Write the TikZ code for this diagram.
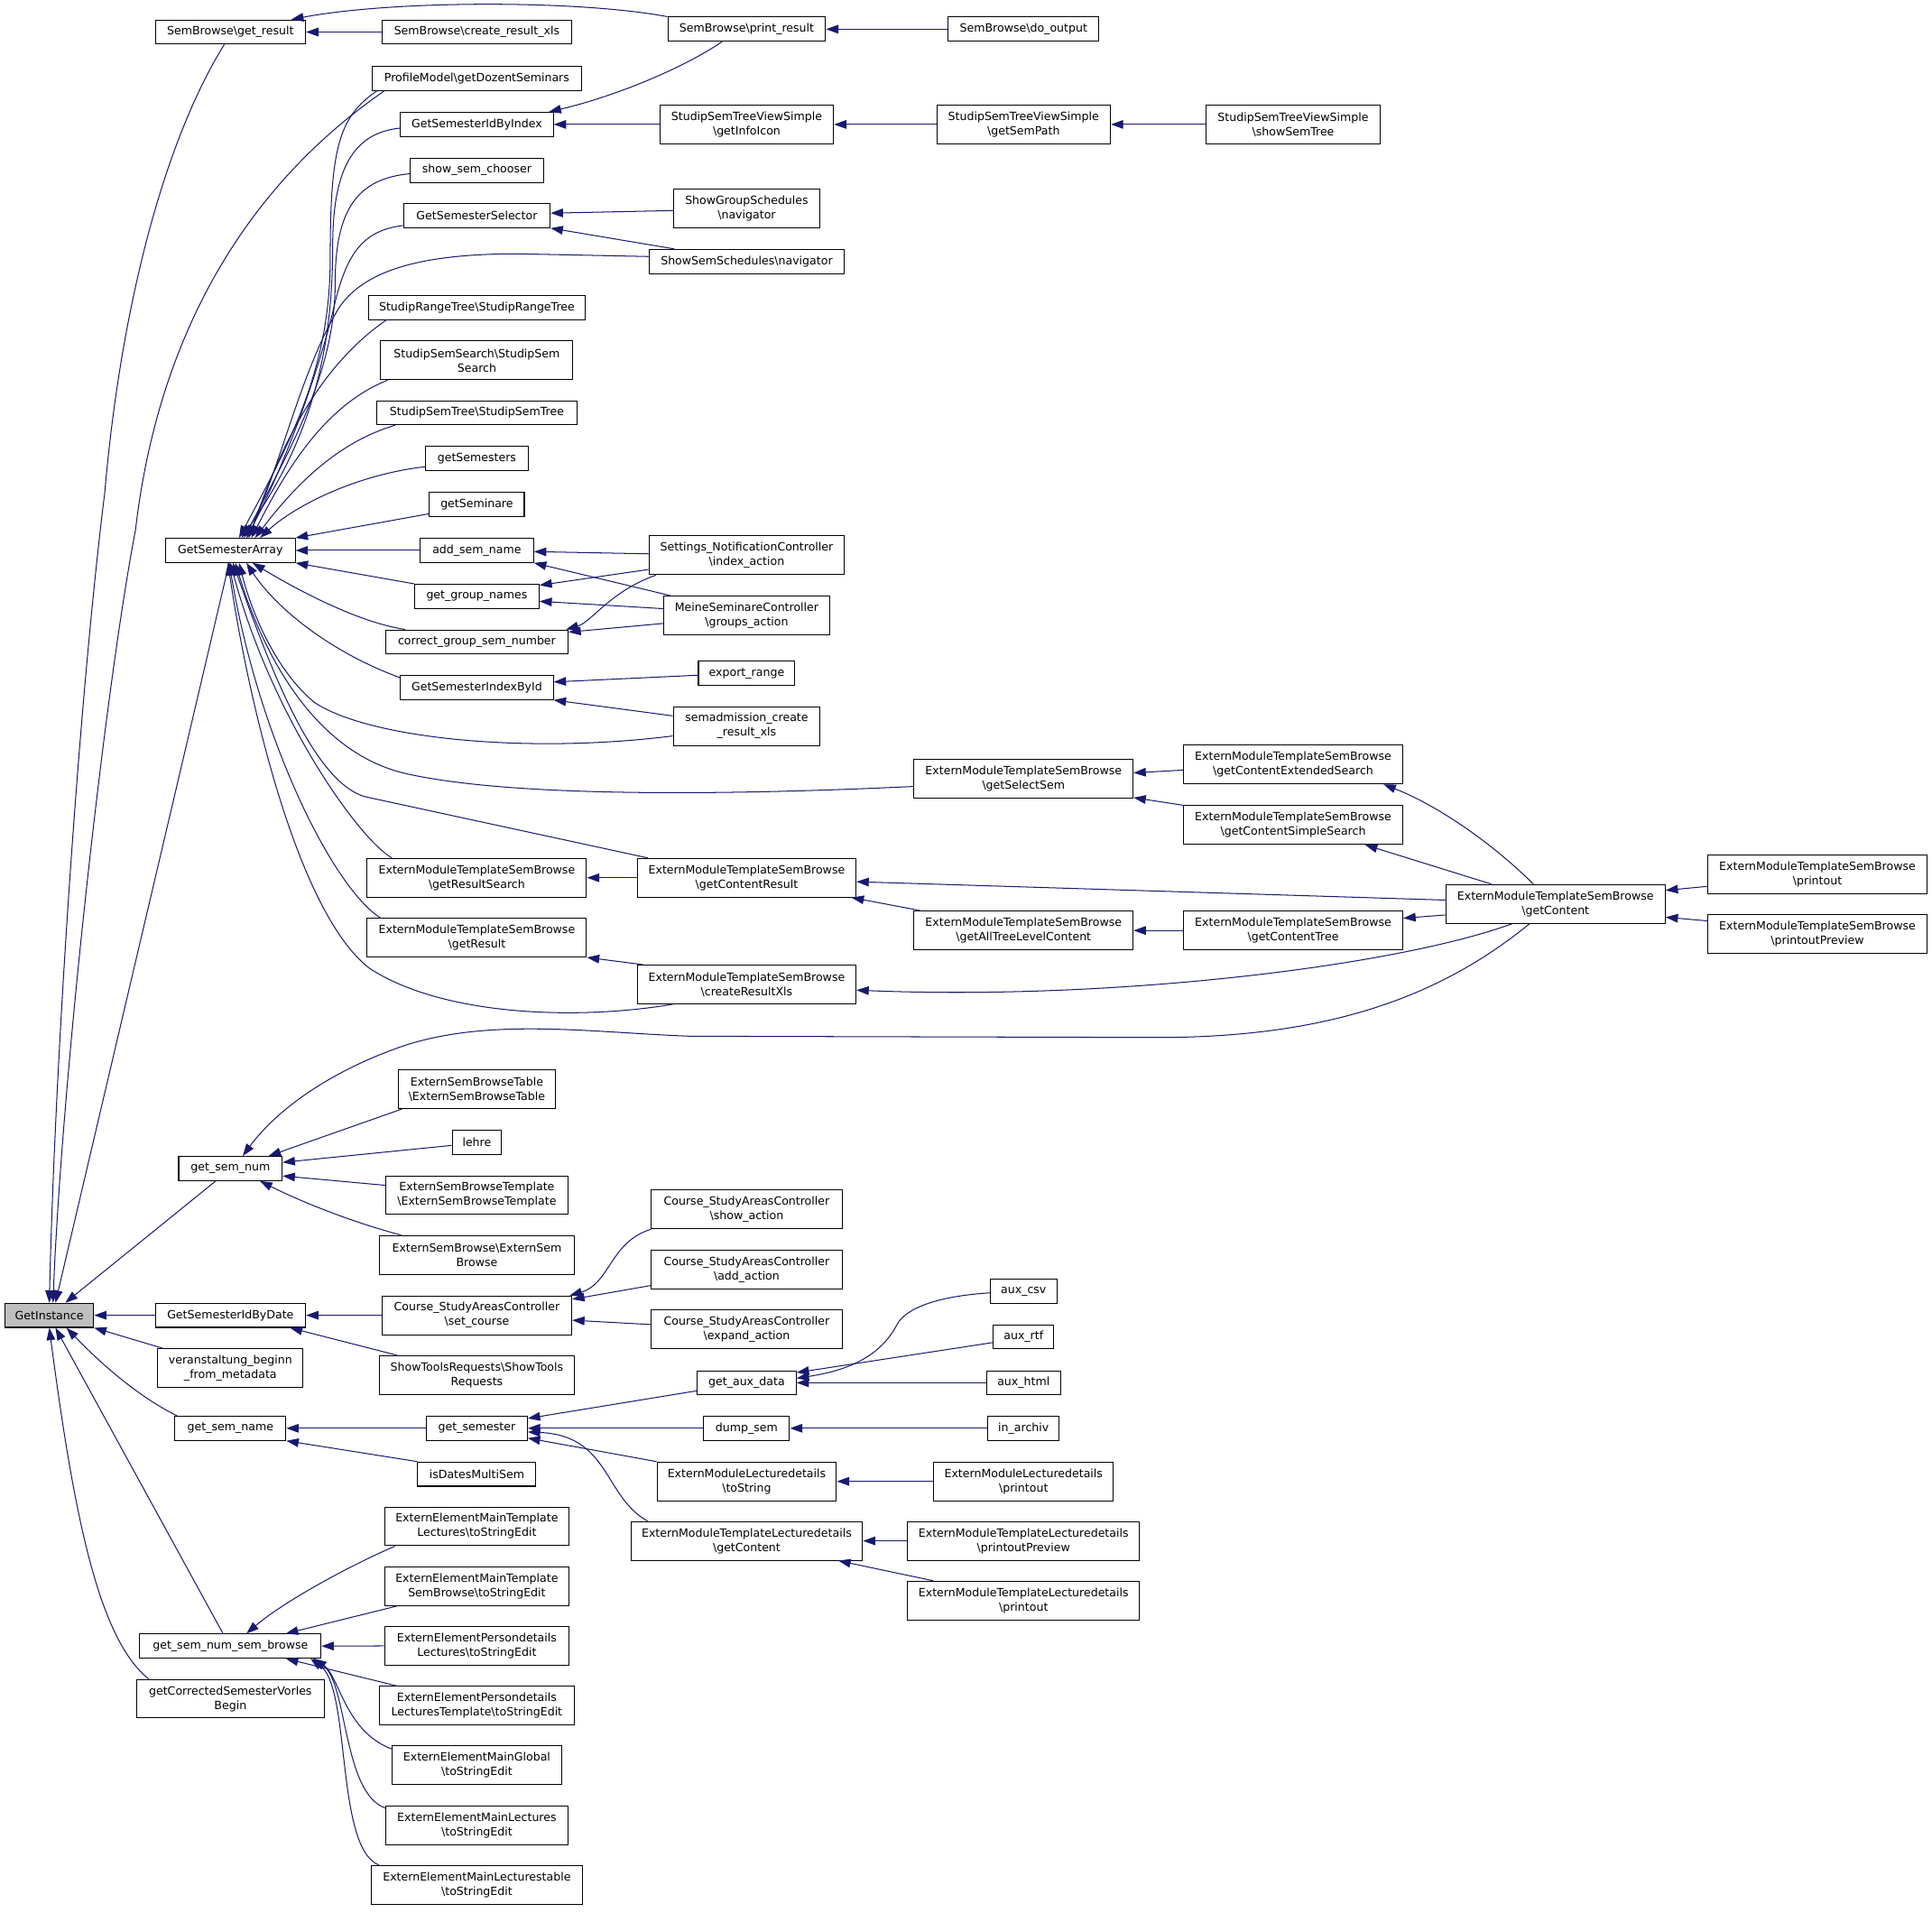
\documentclass[tikz,border=0pt]{standalone}
\usepackage{fontspec}
\setmainfont{DejaVu Sans}
\usetikzlibrary{arrows.meta}
\definecolor{edgeblue}{HTML}{191970}
\definecolor{boxgray}{HTML}{BFBFBF}
\newcommand\bsl{\textbackslash}
\newcommand\onebox[5]{\node[box, minimum width=#4pt, minimum height=19.6pt] (#1) at (#2,#3) {#5};}
\newcommand\twobox[5]{\node[box, minimum width=#4pt, minimum height=31.4pt] (#1) at (#2,#3) {#5};}
\begin{document}
\begin{tikzpicture}[x=1pt, y=-1pt,
  box/.style={draw=black, line width=0.75pt, inner sep=0pt, align=center, fill=white, font=\fontsize{9.2}{11.7}\selectfont},
  link/.style={draw=edgeblue, line width=0.75pt, {Triangle[length=10pt,width=7pt]}-}]
\useasboundingbox (0,0) rectangle (1568,1551.9);
% ---------- column 0 ----------
\node[box, fill=boxgray, minimum width=72pt, minimum height=19.6pt] (gi) at (40,1067.5) {GetInstance};
% ---------- column 1 ----------
\onebox{sgr}{187}{26}{122}{SemBrowse\bsl get\_result}
\onebox{gsa}{187}{446.7}{105}{GetSemesterArray}
\onebox{gsn}{187}{948.4}{84}{get\_sem\_num}
\onebox{gsibd}{187}{1067.5}{122}{GetSemesterIdByDate}
\twobox{vbfm}{187}{1110.5}{118}{veranstaltung\_beginn\\\_from\_metadata}
\onebox{gsname}{187}{1159.2}{90}{get\_sem\_name}
\onebox{gsnsb}{187}{1336}{147}{get\_sem\_num\_sem\_browse}
\twobox{gcsvb}{187}{1378.7}{152}{getCorrectedSemesterVorles\\Begin}
% ---------- column 2 ----------
\onebox{crx}{387}{26}{154}{SemBrowse\bsl create\_result\_xls}
\onebox{pm}{387}{63.8}{170}{ProfileModel\bsl getDozentSeminars}
\onebox{gsibi}{387}{101}{124}{GetSemesterIdByIndex}
\onebox{ssc}{387}{138.2}{108}{show\_sem\_chooser}
\onebox{gss}{387}{175}{119}{GetSemesterSelector}
\onebox{srt}{387}{249.5}{176}{StudipRangeTree\bsl StudipRangeTree}
\twobox{sss}{387}{292.5}{156}{StudipSemSearch\bsl StudipSem\\Search}
\onebox{sst}{387}{335}{162}{StudipSemTree\bsl StudipSemTree}
\onebox{gsem}{387}{371.8}{83}{getSemesters}
\onebox{gsmn}{387}{409.5}{77}{getSeminare}
\onebox{asn}{387}{446.7}{92}{add\_sem\_name}
\onebox{ggn}{387}{484}{101}{get\_group\_names}
\onebox{cgsn}{387}{521}{148}{correct\_group\_sem\_number}
\onebox{gsiid}{387}{558}{124}{GetSemesterIndexById}
\twobox{grs}{387}{712.4}{178}{ExternModuleTemplateSemBrowse\\\bsl getResultSearch}
\twobox{gr}{387}{761}{178}{ExternModuleTemplateSemBrowse\\\bsl getResult}
\twobox{esbt}{387}{884}{128}{ExternSemBrowseTable\\\bsl ExternSemBrowseTable}
\onebox{lehre}{387}{927.2}{40}{lehre}
\twobox{esbtp}{387}{970}{148}{ExternSemBrowseTemplate\\\bsl ExternSemBrowseTemplate}
\twobox{esb}{387}{1018.5}{158}{ExternSemBrowse\bsl ExternSem\\Browse}
\twobox{setc}{387}{1067.5}{154}{Course\_StudyAreasController\\\bsl set\_course}
\twobox{str}{387}{1116}{158}{ShowToolsRequests\bsl ShowTools\\Requests}
\onebox{gsem2}{387}{1159.2}{82}{get\_semester}
\onebox{idms}{387}{1196.4}{96}{isDatesMultiSem}
\twobox{e1}{387}{1238.8}{150}{ExternElementMainTemplate\\Lectures\bsl toStringEdit}
\twobox{e2}{387}{1287.4}{150}{ExternElementMainTemplate\\SemBrowse\bsl toStringEdit}
\twobox{e3}{387}{1335.8}{150}{ExternElementPersondetails\\Lectures\bsl toStringEdit}
\twobox{e4}{387}{1384.4}{158}{ExternElementPersondetails\\LecturesTemplate\bsl toStringEdit}
\twobox{e5}{387}{1432.8}{138}{ExternElementMainGlobal\\\bsl toStringEdit}
\twobox{e6}{387}{1481.4}{148}{ExternElementMainLectures\\\bsl toStringEdit}
\twobox{e7}{387}{1529.8}{171}{ExternElementMainLecturestable\\\bsl toStringEdit}
% ---------- column 3 ----------
\onebox{pr}{606}{23.7}{128}{SemBrowse\bsl print\_result}
\twobox{gii}{606}{101}{141}{StudipSemTreeViewSimple\\\bsl getInfoIcon}
\twobox{sgs}{606}{169.3}{118.5}{ShowGroupSchedules\\\bsl navigator}
\onebox{sssn}{606}{212.2}{158.6}{ShowSemSchedules\bsl navigator}
\twobox{snc}{606}{450.7}{158.6}{Settings\_NotificationController\\\bsl index\_action}
\twobox{msc}{606}{499.5}{134.7}{MeineSeminareController\\\bsl groups\_action}
\onebox{er}{606}{546.4}{78.3}{export\_range}
\twobox{scr}{606}{589.3}{119.3}{semadmission\_create\\\_result\_xls}
\twobox{gcr}{606}{712.4}{177.4}{ExternModuleTemplateSemBrowse\\\bsl getContentResult}
\twobox{crxl}{606}{799}{177.4}{ExternModuleTemplateSemBrowse\\\bsl createResultXls}
\twobox{sa}{606}{981.6}{154.6}{Course\_StudyAreasController\\\bsl show\_action}
\twobox{aa}{606}{1030.3}{154.6}{Course\_StudyAreasController\\\bsl add\_action}
\twobox{ea}{606}{1079}{154.6}{Course\_StudyAreasController\\\bsl expand\_action}
\onebox{gad}{606}{1122.3}{80.3}{get\_aux\_data}
\onebox{ds}{606}{1159.2}{69.6}{dump\_sem}
\twobox{tos}{606}{1202.3}{145.6}{ExternModuleLecturedetails\\\bsl toString}
\twobox{tlgc}{606}{1250.6}{188}{ExternModuleTemplateLecturedetails\\\bsl getContent}
% ---------- column 4 ----------
\onebox{dout}{830.7}{23.7}{122.6}{SemBrowse\bsl do\_output}
\twobox{gsp}{830.7}{101}{141}{StudipSemTreeViewSimple\\\bsl getSemPath}
\twobox{gssel}{830.7}{632.3}{177.7}{ExternModuleTemplateSemBrowse\\\bsl getSelectSem}
\twobox{gatl}{830.7}{755.2}{177.7}{ExternModuleTemplateSemBrowse\\\bsl getAllTreeLevelContent}
\onebox{acsv}{830.7}{1048}{54}{aux\_csv}
\onebox{artf}{830.7}{1085}{49}{aux\_rtf}
\onebox{ahtml}{830.7}{1122.3}{60}{aux\_html}
\onebox{iarch}{830.7}{1159.2}{58}{in\_archiv}
\twobox{elp}{830.7}{1202.3}{145.5}{ExternModuleLecturedetails\\\bsl printout}
\twobox{tlpp}{830.7}{1250.6}{188}{ExternModuleTemplateLecturedetails\\\bsl printoutPreview}
\twobox{tlp}{830.7}{1299}{188}{ExternModuleTemplateLecturedetails\\\bsl printout}
% ---------- column 5 ----------
\twobox{sst2}{1049.5}{101}{141.4}{StudipSemTreeViewSimple\\\bsl showSemTree}
\twobox{gces}{1049.5}{620.5}{178}{ExternModuleTemplateSemBrowse\\\bsl getContentExtendedSearch}
\twobox{gcss}{1049.5}{669.6}{178}{ExternModuleTemplateSemBrowse\\\bsl getContentSimpleSearch}
\twobox{gct}{1049.5}{755.2}{178}{ExternModuleTemplateSemBrowse\\\bsl getContentTree}
% ---------- column 6/7 ----------
\twobox{gc}{1262.4}{733.6}{178}{ExternModuleTemplateSemBrowse\\\bsl getContent}
\twobox{po}{1475}{709.4}{178}{ExternModuleTemplateSemBrowse\\\bsl printout}
\twobox{ppv}{1475}{758.2}{178}{ExternModuleTemplateSemBrowse\\\bsl printoutPreview}

% ================= edges =================
% into GetInstance
\draw[link] (gi.north) .. controls (45,850) and (65,560) .. (85,400) .. controls (97,260) and (130,120) .. ([xshift=-5pt]sgr.south);
\draw[link] ([xshift=3pt]gi.north) .. controls (50,880) and (85,560) .. (110,430) .. controls (125,300) and (180,165) .. ([xshift=10pt]pm.south west);
\draw[link] ([xshift=5pt]gi.north) -- ([xshift=-1pt]gsa.south);
\draw[link] ([xshift=13pt]gi.north) -- ([xshift=-12pt]gsn.south);
\draw[link] (gi.east) -- (gsibd.west);
\draw[link] (gi.south east) -- ([xshift=5pt]vbfm.north west);
\draw[link] ([xshift=14pt]gi.south) .. controls (85,1110) and (115,1135) .. ([xshift=2pt]gsname.north west);
\draw[link] ([xshift=5pt]gi.south) -- ([xshift=-6pt]gsnsb.north);
\draw[link] (gi.south) .. controls (60,1230) and (80,1330) .. ([xshift=10pt]gcsvb.north west);
% SemBrowse
\draw[link] (sgr.east) -- (crx.west);
\draw[link] ([xshift=-12pt]sgr.north east) .. controls (320,0) and (470,0) .. (pr.north west);
\draw[link] (pr.east) -- (dout.west);
\draw[link] ([xshift=-4pt]gsibi.north east) .. controls (500,78) and (555,55) .. ([xshift=-20pt]pr.south);
% into GetSemesterArray (top)
\draw[link] ([xshift=7pt]gsa.north) .. controls (235,360) and (268,300) .. (268,210) .. controls (268,120) and (275,95) .. ([xshift=4pt]pm.south west);
\draw[link] ([xshift=9pt]gsa.north) .. controls (250,360) and (270,290) .. (270,200) .. controls (270,140) and (285,108) .. ([yshift=-3pt]gsibi.west);
\draw[link] ([xshift=11pt]gsa.north) .. controls (238,360) and (272,300) .. (272,230) .. controls (272,170) and (290,145) .. ([yshift=-2.8pt]ssc.west);
\draw[link] ([xshift=13pt]gsa.north) .. controls (235,370) and (262,290) .. (272,245) .. controls (282,205) and (295,187) .. ([yshift=-8pt]gss.west);
\draw[link] ([xshift=14pt]gsa.north) .. controls (230,370) and (245,300) .. (275,250) .. controls (295,220) and (340,206) .. (420,206) -- ([yshift=4pt]sssn.west);
\draw[link] ([xshift=15pt]gsa.north) .. controls (225,370) and (255,300) .. ([xshift=15pt]srt.south west);
\draw[link] ([xshift=17pt]gsa.north) .. controls (228,390) and (260,330) .. ([xshift=6pt]sss.south west);
\draw[link] ([xshift=20pt]gsa.north) .. controls (235,400) and (270,360) .. ([xshift=15pt]sst.south west);
\draw[link] ([xshift=24pt]gsa.north) .. controls (240,410) and (290,385) .. ([yshift=-7pt]gsem.west);
\draw[link] (gsa.north east) -- ([yshift=-7.5pt]gsmn.west);
\draw[link] (gsa.east) -- (asn.west);
% into GetSemesterArray (bottom)
\draw[link] (gsa.south east) -- (ggn.north west);
\draw[link] ([xshift=18pt]gsa.south) .. controls (240,478) and (290,505) .. ([xshift=16pt]cgsn.north west);
\draw[link] ([xshift=13pt]gsa.south) .. controls (225,495) and (270,530) .. ([yshift=8pt]gsiid.west);
\draw[link] ([xshift=7pt]gsa.south) .. controls (205,500) and (225,545) .. (255,570) .. controls (300,600) and (430,612) .. ([yshift=-8pt]scr.west);
\draw[link] ([xshift=4pt]gsa.south) .. controls (210,520) and (250,610) .. (330,628) .. controls (420,648) and (600,645) .. ([yshift=-6pt]gssel.west);
\draw[link] ([xshift=2pt]gsa.south) .. controls (215,530) and (253,637) .. (298,647) -- ([xshift=9pt]gcr.north west);
\draw[link] (gsa.south) .. controls (220,580) and (290,680) .. ([xshift=20.5pt]grs.north west);
\draw[link] ([xshift=-1pt]gsa.south) .. controls (210,600) and (270,720) .. ([xshift=11pt]gr.north west);
\draw[link] ([xshift=-2pt]gsa.south) .. controls (200,560) and (240,740) .. (300,786) .. controls (360,825) and (470,828) .. ([xshift=29pt]crxl.south west);
\draw[link] (gr.south east) -- ([xshift=5pt]crxl.north west);
% StudipSemTreeViewSimple chain, schedules
\draw[link] (gsibi.east) -- (gii.west);
\draw[link] (gii.east) -- (gsp.west);
\draw[link] (gsp.east) -- (sst2.west);
\draw[link] ([yshift=2pt]gss.east) -- ([yshift=-1.6pt]sgs.west);
\draw[link] (gss.south east) -- ([xshift=21pt]sssn.north west);
% add_sem_name, get_group_names, correct_group_sem_number, GetSemesterIndexById
\draw[link] ([yshift=-1pt]asn.east) -- ([yshift=1.2pt]snc.west);
\draw[link] (asn.south east) -- ([xshift=6pt]msc.north west);
\draw[link] ([yshift=9pt]ggn.east) -- ([yshift=-11.5pt]snc.west);
\draw[link] ([yshift=-4pt]ggn.east) -- ([yshift=5.5pt]msc.west);
\draw[link] ([xshift=-2pt]cgsn.north east) .. controls (480,505) and (495,480) .. ([xshift=6pt]snc.south west);
\draw[link] ([yshift=8pt]cgsn.east) -- ([yshift=-6.5pt]msc.west);
\draw[link] ([yshift=4.5pt]gsiid.east) -- ([yshift=-1.6pt]er.west);
\draw[link] (gsiid.south east) -- ([yshift=8.3pt]scr.west);
% ExternModuleTemplateSemBrowse cluster
\draw[link] ([yshift=5pt]gssel.east) -- ([yshift=-4.5pt]gces.west);
\draw[link] ([yshift=1pt]gssel.south east) -- (gcss.north west);
\draw[link] ([xshift=-16pt]gces.south east) .. controls (1170,655) and (1215,688) .. ([xshift=-18pt]gc.north);
\draw[link] ([xshift=-31pt]gcss.south east) -- ([xshift=-52pt]gc.north);
\draw[link] ([yshift=-3.2pt]gcr.east) -- ([yshift=3.1pt]gc.west);
\draw[link] ([yshift=10pt]gct.east) -- ([yshift=-9pt]gc.west);
\draw[link] ([yshift=11pt]gc.east) -- ([yshift=-10pt]po.west);
\draw[link] ([yshift=-10.8pt]gc.east) -- ([yshift=10.8pt]ppv.west);
\draw[link] ([yshift=-4.6pt]crxl.east) .. controls (900,812) and (1130,785) .. ([xshift=-35pt]gc.south);
\draw[link] ([xshift=-4pt]gcr.south east) -- ([xshift=6pt]gatl.north west);
\draw[link] (grs.east) -- (gcr.west);
\draw[link] (gatl.east) -- (gct.west);
% get_sem_num
\draw[link] ([xshift=10pt]gsn.north) .. controls (225,900) and (270,868) .. (330,848) .. controls (400,826) and (480,838) .. (560,841) -- (940,842) .. controls (1080,842) and (1170,808) .. ([xshift=-21pt]gc.south);
\draw[link] ([xshift=31pt]gsn.north) -- ([xshift=3.6pt]esbt.south west);
\draw[link] ([yshift=5pt]gsn.east) -- ([yshift=-2.4pt]lehre.west);
\draw[link] ([yshift=-6pt]gsn.east) -- ([yshift=8pt]esbtp.west);
\draw[link] ([xshift=24pt]gsn.south) .. controls (250,978) and (290,993) .. ([xshift=18pt]esb.north west);
% GetSemesterIdByDate
\draw[link] (gsibd.east) -- (setc.west);
\draw[link] ([xshift=-13pt]gsibd.south east) -- ([xshift=14.6pt]str.north west);
\draw[link] ([xshift=-2pt]setc.north east) .. controls (495,1042) and (495,1008) .. (sa.south west);
\draw[link] ([yshift=13pt]setc.east) -- ([yshift=-13pt]aa.west);
\draw[link] ([yshift=-4pt]setc.east) -- ([yshift=4pt]ea.west);
% get_sem_name / get_semester
\draw[link] (gsname.east) -- (gsem2.west);
\draw[link] (gsname.south east) -- (idms.north west);
\draw[link] ([yshift=8pt]gsem2.east) -- ([yshift=-6.5pt]gad.west);
\draw[link] (gsem2.east) -- (ds.west);
\draw[link] ([yshift=-8pt]gsem2.east) -- (tos.north west);
\draw[link] ([yshift=-3pt]gsem2.east) .. controls (495,1165) and (490,1215) .. ([xshift=14pt]tlgc.north west);
\draw[link] ([yshift=3.7pt]gad.east) .. controls (690,1112) and (715,1100) .. (728,1075) .. controls (735,1062) and (760,1052) .. ([yshift=-1.3pt]acsv.west);
\draw[link] ([yshift=8.3pt]gad.east) -- ([yshift=-4.6pt]artf.west);
\draw[link] (gad.east) -- (ahtml.west);
\draw[link] (ds.east) -- (iarch.west);
\draw[link] (tos.east) -- (elp.west);
\draw[link] (tlgc.east) -- (tlpp.west);
\draw[link] ([xshift=-20pt]tlgc.south east) -- ([xshift=21pt]tlp.north west);
% get_sem_num_sem_browse
\draw[link] ([xshift=13pt]gsnsb.north) .. controls (230,1300) and (285,1270) .. ([xshift=9pt]e1.south west);
\draw[link] ([xshift=45pt]gsnsb.north) -- ([xshift=10.6pt]e2.south west);
\draw[link] (gsnsb.east) -- (e3.west);
\draw[link] ([xshift=45pt]gsnsb.south) -- ([xshift=14.6pt]e4.north west);
\draw[link] ([xshift=68pt]gsnsb.south) .. controls (275,1360) and (280,1405) .. ([yshift=13.4pt]e5.west);
\draw[link] ([xshift=67pt]gsnsb.south) .. controls (282,1365) and (278,1455) .. ([yshift=14pt]e6.west);
\draw[link] ([xshift=65pt]gsnsb.south) .. controls (285,1370) and (272,1500) .. ([xshift=6.5pt]e7.north west);
\end{tikzpicture}
\end{document}
